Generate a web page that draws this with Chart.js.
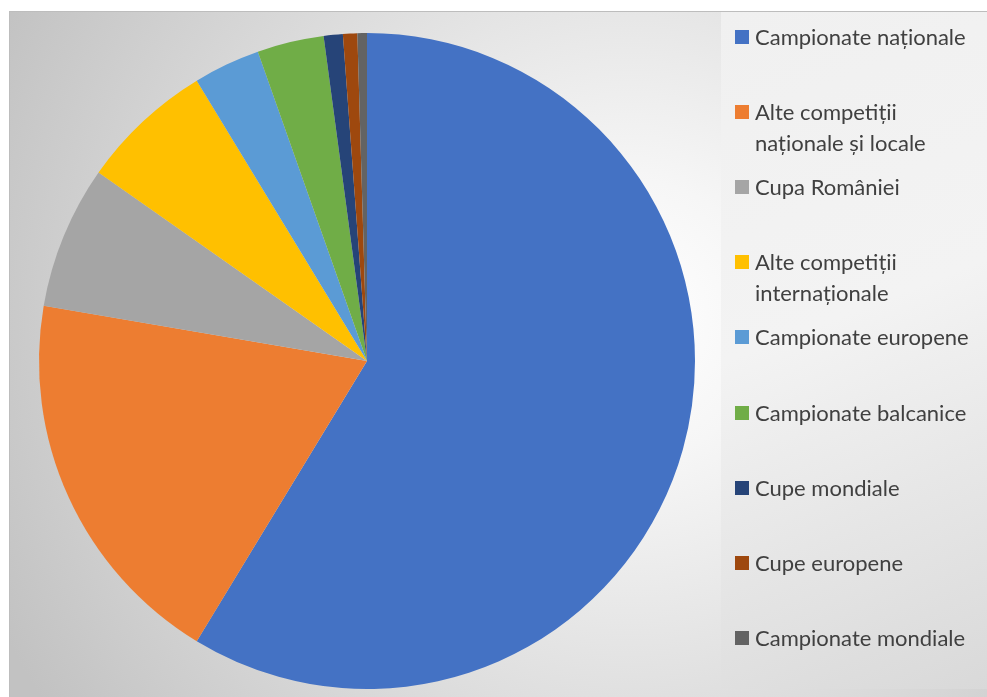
<!DOCTYPE html>
<html><head><meta charset="utf-8">
<script src="https://cdn.jsdelivr.net/npm/chart.js@4.4.0/dist/chart.umd.min.js"></script>
<style>html,body{margin:0;padding:0;background:#fff;overflow:hidden}#wrap{width:987px;height:697px;position:relative}</style>
</head><body><div id="wrap"><canvas id="c" width="987" height="697"></canvas></div>
<script>
const categories = [
  'Campionate naționale',
  'Alte competiții naționale și locale',
  'Cupa României',
  'Alte competiții internaționale',
  'Campionate europene',
  'Campionate balcanice',
  'Cupe mondiale',
  'Cupe europene',
  'Campionate mondiale'
];
const values = [250, 81, 30, 28, 14, 14, 4, 3, 2];
const colors = ['#4472C4','#ED7D31','#A5A5A5','#FFC000','#5B9BD5','#70AD47','#264478','#9E480E','#636363'];

const LEG_FONT = '22px Lato';
const LEG_X = 735, LEG_Y0 = 37, LEG_STEP = 75.1, LEG_MAXW = 226, LEG_LINE = 31;

function wrap(ctx, text, maxW) {
  const words = text.split(' ');
  const lines = [];
  let cur = '';
  for (const w of words) {
    const t = cur ? cur + ' ' + w : w;
    if (ctx.measureText(t).width > maxW && cur) { lines.push(cur); cur = w; }
    else cur = t;
  }
  if (cur) lines.push(cur);
  return lines;
}

const bgPlugin = {
  id: 'bg',
  beforeDraw(chart) {
    const ctx = chart.ctx, W = chart.width, H = chart.height;
    ctx.save();
    ctx.fillStyle = '#ffffff';
    ctx.fillRect(0, 0, W, H);
    const g = ctx.createRadialGradient(630, 320, 0, 630, 320, 700);
    g.addColorStop(0, '#ffffff');
    g.addColorStop(0.2, '#f6f6f6');
    g.addColorStop(1, '#c2c2c2');
    ctx.fillStyle = g;
    ctx.fillRect(9, 11, W - 9, H - 11);
    const lg = ctx.createLinearGradient(721, 12, 987, 689);
    lg.addColorStop(0, '#f0f0f0');
    lg.addColorStop(0.45, '#f3f3f3');
    lg.addColorStop(1, '#d9d9d9');
    ctx.fillStyle = lg;
    ctx.fillRect(721, 12, W - 721, 677);
    ctx.strokeStyle = '#bdbdbd';
    ctx.lineWidth = 1;
    ctx.strokeRect(9.5, 11.5, W, H);
    ctx.restore();
  }
};

const legendPlugin = {
  id: 'customLegend',
  afterDraw(chart) {
    const ctx = chart.ctx;
    ctx.save();
    ctx.font = LEG_FONT;
    ctx.textBaseline = 'middle';
    ctx.textAlign = 'left';
    categories.forEach((name, i) => {
      const y = LEG_Y0 + LEG_STEP * i;
      ctx.fillStyle = colors[i];
      ctx.fillRect(LEG_X, Math.round(y - 7), 14, 14);
      ctx.fillStyle = '#404040';
      const lines = wrap(ctx, name, LEG_MAXW);
      lines.forEach((ln, k) => ctx.fillText(ln, LEG_X + 20, y + 1 + k * LEG_LINE));
    });
    ctx.restore();
  }
};

new Chart(document.getElementById('c'), {
  type: 'pie',
  data: {
    labels: categories,
    datasets: [{
      data: values,
      backgroundColor: colors,
      borderWidth: 0,
      hoverOffset: 0,
      offset: 0
    }]
  },
  options: {
    responsive: false,
    animation: false,
    events: [],
    layout: { padding: { left: 39, right: 292, top: 33, bottom: 8 } },
    plugins: { legend: { display: false }, tooltip: { enabled: false } }
  },
  plugins: [bgPlugin, legendPlugin]
});
</script>
</body></html>
